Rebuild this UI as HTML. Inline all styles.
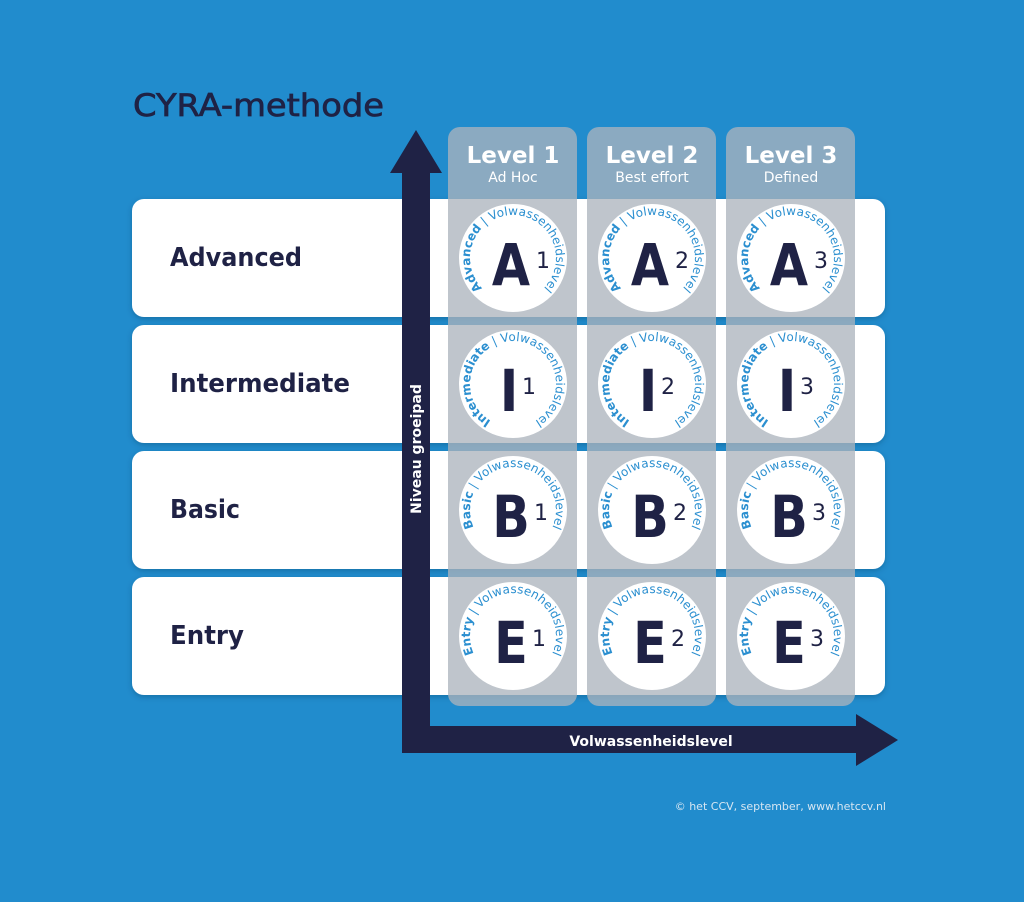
<!DOCTYPE html>
<html><head><meta charset="utf-8"><style>
html,body{margin:0;padding:0;background:#218ccd;}
svg{display:block}
text{font-family:"DejaVu Sans","Liberation Sans",sans-serif}
</style></head><body>
<svg width="1024" height="902" viewBox="0 0 1024 902" xmlns="http://www.w3.org/2000/svg">
<defs>
<path id="arc" d="M -3.8 42.8 A 43 43 0 1 1 3.8 42.8"/>
<filter id="sh" x="-5%" y="-10%" width="110%" height="130%"><feDropShadow dx="0" dy="2" stdDeviation="3" flood-color="#0a3a60" flood-opacity="0.35"/></filter>
</defs>
<rect width="1024" height="902" fill="#218ccd"/>
<text x="133" y="116" font-size="31" fill="#1f2245" stroke="#1f2245" stroke-width="0.7" textLength="251" lengthAdjust="spacingAndGlyphs">CYRA-methode</text>

<g filter="url(#sh)" fill="#fff">
<rect x="132" y="199" width="753" height="118" rx="12"/>
<rect x="132" y="325" width="753" height="118" rx="12"/>
<rect x="132" y="451" width="753" height="118" rx="12"/>
<rect x="132" y="577" width="753" height="118" rx="12"/>
</g>
<g font-size="26" font-weight="bold" fill="#1f2245">
<text x="170" y="266" textLength="132" lengthAdjust="spacingAndGlyphs">Advanced</text>
<text x="170" y="392" textLength="180" lengthAdjust="spacingAndGlyphs">Intermediate</text>
<text x="170" y="518" textLength="70" lengthAdjust="spacingAndGlyphs">Basic</text>
<text x="170" y="644" textLength="74" lengthAdjust="spacingAndGlyphs">Entry</text>
</g>

<g fill="rgba(172,180,188,0.77)">
<rect x="448" y="127" width="129" height="579" rx="12"/>
<rect x="587" y="127" width="129" height="579" rx="12"/>
<rect x="726" y="127" width="129" height="579" rx="12"/>
</g>
<g fill="#fff" text-anchor="middle">
<text x="513" y="163" font-size="23" font-weight="bold">Level 1</text>
<text x="513" y="182" font-size="14">Ad Hoc</text>
<text x="652" y="163" font-size="23" font-weight="bold">Level 2</text>
<text x="652" y="182" font-size="14">Best effort</text>
<text x="791" y="163" font-size="23" font-weight="bold">Level 3</text>
<text x="791" y="182" font-size="14">Defined</text>
</g>

<g>
<g transform="translate(513,258)"><circle r="54" fill="#fff"/><text font-size="12" fill="#2b8fd0"><textPath href="#arc" startOffset="50%" text-anchor="middle"><tspan font-weight="bold">Advanced</tspan> | Volwassenheidslevel</textPath></text><text transform="translate(-2,27) scale(0.85,1)" font-size="58" font-weight="bold" fill="#1f2245" text-anchor="middle">A</text><text x="30" y="10" font-size="22" fill="#1f2245" text-anchor="middle">1</text></g>
<g transform="translate(652,258)"><circle r="54" fill="#fff"/><text font-size="12" fill="#2b8fd0"><textPath href="#arc" startOffset="50%" text-anchor="middle"><tspan font-weight="bold">Advanced</tspan> | Volwassenheidslevel</textPath></text><text transform="translate(-2,27) scale(0.85,1)" font-size="58" font-weight="bold" fill="#1f2245" text-anchor="middle">A</text><text x="30" y="10" font-size="22" fill="#1f2245" text-anchor="middle">2</text></g>
<g transform="translate(791,258)"><circle r="54" fill="#fff"/><text font-size="12" fill="#2b8fd0"><textPath href="#arc" startOffset="50%" text-anchor="middle"><tspan font-weight="bold">Advanced</tspan> | Volwassenheidslevel</textPath></text><text transform="translate(-2,27) scale(0.85,1)" font-size="58" font-weight="bold" fill="#1f2245" text-anchor="middle">A</text><text x="30" y="10" font-size="22" fill="#1f2245" text-anchor="middle">3</text></g>

<g transform="translate(513,384)"><circle r="54" fill="#fff"/><text font-size="12" fill="#2b8fd0"><textPath href="#arc" startOffset="50%" text-anchor="middle"><tspan font-weight="bold">Intermediate</tspan> | Volwassenheidslevel</textPath></text><text transform="translate(-4,27) scale(0.85,1)" font-size="58" font-weight="bold" fill="#1f2245" text-anchor="middle">I</text><text x="16" y="10" font-size="22" fill="#1f2245" text-anchor="middle">1</text></g>
<g transform="translate(652,384)"><circle r="54" fill="#fff"/><text font-size="12" fill="#2b8fd0"><textPath href="#arc" startOffset="50%" text-anchor="middle"><tspan font-weight="bold">Intermediate</tspan> | Volwassenheidslevel</textPath></text><text transform="translate(-4,27) scale(0.85,1)" font-size="58" font-weight="bold" fill="#1f2245" text-anchor="middle">I</text><text x="16" y="10" font-size="22" fill="#1f2245" text-anchor="middle">2</text></g>
<g transform="translate(791,384)"><circle r="54" fill="#fff"/><text font-size="12" fill="#2b8fd0"><textPath href="#arc" startOffset="50%" text-anchor="middle"><tspan font-weight="bold">Intermediate</tspan> | Volwassenheidslevel</textPath></text><text transform="translate(-4,27) scale(0.85,1)" font-size="58" font-weight="bold" fill="#1f2245" text-anchor="middle">I</text><text x="16" y="10" font-size="22" fill="#1f2245" text-anchor="middle">3</text></g>

<g transform="translate(513,510)"><circle r="54" fill="#fff"/><text font-size="12" fill="#2b8fd0"><textPath href="#arc" startOffset="50%" text-anchor="middle"><tspan font-weight="bold">Basic</tspan> | Volwassenheidslevel</textPath></text><text transform="translate(-2,27) scale(0.85,1)" font-size="58" font-weight="bold" fill="#1f2245" text-anchor="middle">B</text><text x="28" y="10" font-size="22" fill="#1f2245" text-anchor="middle">1</text></g>
<g transform="translate(652,510)"><circle r="54" fill="#fff"/><text font-size="12" fill="#2b8fd0"><textPath href="#arc" startOffset="50%" text-anchor="middle"><tspan font-weight="bold">Basic</tspan> | Volwassenheidslevel</textPath></text><text transform="translate(-2,27) scale(0.85,1)" font-size="58" font-weight="bold" fill="#1f2245" text-anchor="middle">B</text><text x="28" y="10" font-size="22" fill="#1f2245" text-anchor="middle">2</text></g>
<g transform="translate(791,510)"><circle r="54" fill="#fff"/><text font-size="12" fill="#2b8fd0"><textPath href="#arc" startOffset="50%" text-anchor="middle"><tspan font-weight="bold">Basic</tspan> | Volwassenheidslevel</textPath></text><text transform="translate(-2,27) scale(0.85,1)" font-size="58" font-weight="bold" fill="#1f2245" text-anchor="middle">B</text><text x="28" y="10" font-size="22" fill="#1f2245" text-anchor="middle">3</text></g>

<g transform="translate(513,636)"><circle r="54" fill="#fff"/><text font-size="12" fill="#2b8fd0"><textPath href="#arc" startOffset="50%" text-anchor="middle"><tspan font-weight="bold">Entry</tspan> | Volwassenheidslevel</textPath></text><text transform="translate(-2,27) scale(0.85,1)" font-size="58" font-weight="bold" fill="#1f2245" text-anchor="middle">E</text><text x="26" y="10" font-size="22" fill="#1f2245" text-anchor="middle">1</text></g>
<g transform="translate(652,636)"><circle r="54" fill="#fff"/><text font-size="12" fill="#2b8fd0"><textPath href="#arc" startOffset="50%" text-anchor="middle"><tspan font-weight="bold">Entry</tspan> | Volwassenheidslevel</textPath></text><text transform="translate(-2,27) scale(0.85,1)" font-size="58" font-weight="bold" fill="#1f2245" text-anchor="middle">E</text><text x="26" y="10" font-size="22" fill="#1f2245" text-anchor="middle">2</text></g>
<g transform="translate(791,636)"><circle r="54" fill="#fff"/><text font-size="12" fill="#2b8fd0"><textPath href="#arc" startOffset="50%" text-anchor="middle"><tspan font-weight="bold">Entry</tspan> | Volwassenheidslevel</textPath></text><text transform="translate(-2,27) scale(0.85,1)" font-size="58" font-weight="bold" fill="#1f2245" text-anchor="middle">E</text><text x="26" y="10" font-size="22" fill="#1f2245" text-anchor="middle">3</text></g>
</g>

<g fill="#1f2245">
<rect x="402" y="165" width="28" height="588"/>
<polygon points="416,130 442,173 390,173"/>
<rect x="402" y="726" width="458" height="27"/>
<polygon points="898,740 856,714 856,766"/>
</g>
<text transform="translate(421,449) rotate(-90)" font-size="14" font-weight="bold" fill="#fff" text-anchor="middle">Niveau groeipad</text>
<text x="651" y="746" font-size="14" font-weight="bold" fill="#fff" text-anchor="middle">Volwassenheidslevel</text>
<text x="886" y="810" font-size="11" fill="#d6e6f2" text-anchor="end">© het CCV, september, www.hetccv.nl</text>
</svg>
</body></html>
